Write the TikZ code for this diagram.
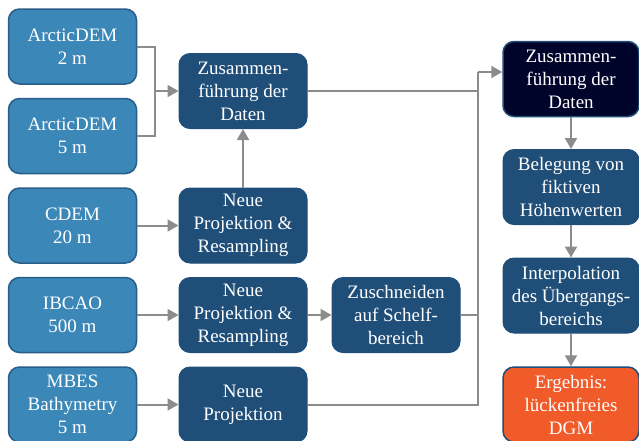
\documentclass[tikz,border=0pt]{standalone}
\usepackage{fontspec}
\setmainfont{Liberation Serif}
\usetikzlibrary{arrows.meta}
\definecolor{srcblue}{HTML}{3A87B8}
\definecolor{srcedge}{HTML}{2A5E8A}
\definecolor{procblue}{HTML}{1F4E79}
\definecolor{navy}{HTML}{00042A}
\definecolor{resorange}{HTML}{F15A29}
\definecolor{conngray}{HTML}{8C8C8C}
\begin{document}
\begin{tikzpicture}[
  x=1pt,
  y=-1pt,
  font=\rmfamily\fontsize{19}{23}\selectfont,
  box/.style={rounded corners=11pt, align=center, text=white, inner sep=0pt,
    minimum height=75pt},
  srcbox/.style={box, fill=srcblue, draw=srcedge, line width=1.5pt, minimum width=128pt},
  procbox/.style={box, fill=procblue, draw=procblue, line width=1pt, minimum width=128pt},
  mergebox/.style={box, fill=navy, draw=procblue, line width=1.5pt, minimum width=136pt},
  stepbox/.style={box, fill=procblue, draw=procblue, line width=1pt, minimum width=136pt},
  resultbox/.style={box, fill=resorange, draw=procblue, line width=1.5pt, minimum width=136pt},
  conn/.style={draw=conngray, line width=2pt},
  arr/.style={conn, -{Triangle[length=11pt,width=12pt]}}
]
\useasboundingbox (0,0) rectangle (639,440);

% sources
\node[srcbox] (arc2) at (72.5,46.5) {ArcticDEM\\2 m};
\node[srcbox] (arc5) at (72.5,136) {ArcticDEM\\5 m};
\node[srcbox] (cdem) at (72.5,225.5) {CDEM\\20 m};
\node[srcbox] (ibcao) at (72.5,315) {IBCAO\\500 m};
\node[srcbox] (mbes) at (72.5,404.5) {MBES\\Bathymetry\\5 m};

% preprocessing
\node[procbox] (merge) at (243,91) {Zusammen-\\führung der\\Daten};
\node[procbox] (proj1) at (243,225.5) {Neue\\Projektion \&\\Resampling};
\node[procbox] (proj2) at (243,315) {Neue\\Projektion \&\\Resampling};
\node[procbox] (proj3) at (243,404.5) {Neue\\Projektion};
\node[procbox] (cut) at (396,315) {Zuschneiden\\auf Schelf-\\bereich};

% final chain
\node[mergebox] (mergeall) at (571,79) {Zusammen-\\führung der\\Daten};
\node[stepbox] (fictive) at (571,187) {Belegung von\\fiktiven\\Höhenwerten};
\node[stepbox] (interp) at (571,295.5) {Interpolation\\des Übergangs-\\bereichs};
\node[resultbox] (result) at (571,404.5) {Ergebnis:\\lückenfreies\\DGM};

% connectors
\coordinate (jl) at (155,91);
\coordinate (bustop) at (478,72);
\coordinate (busbot) at (478,404.5);
\draw[conn] (arc2.east) -| (jl) |- (arc5.east);
\draw[arr] (jl) -- (merge.west);
\draw[arr] (proj1.north) -- (merge.south);
\draw[arr] (cdem.east) -- (proj1.west);
\draw[arr] (ibcao.east) -- (proj2.west);
\draw[arr] (mbes.east) -- (proj3.west);
\draw[arr] (proj2.east) -- (cut.west);
\draw[conn] (merge.east) -- (merge.east -| bustop);
\draw[conn] (cut.east) -- (cut.east -| bustop);
\draw[conn] (proj3.east) -- (busbot) -- (bustop);
\draw[arr] (bustop) -- (bustop -| mergeall.west);
\draw[arr] (mergeall.south) -- (fictive.north);
\draw[arr] (fictive.south) -- (interp.north);
\draw[arr] (interp.south) -- (result.north);
\end{tikzpicture}
\end{document}
